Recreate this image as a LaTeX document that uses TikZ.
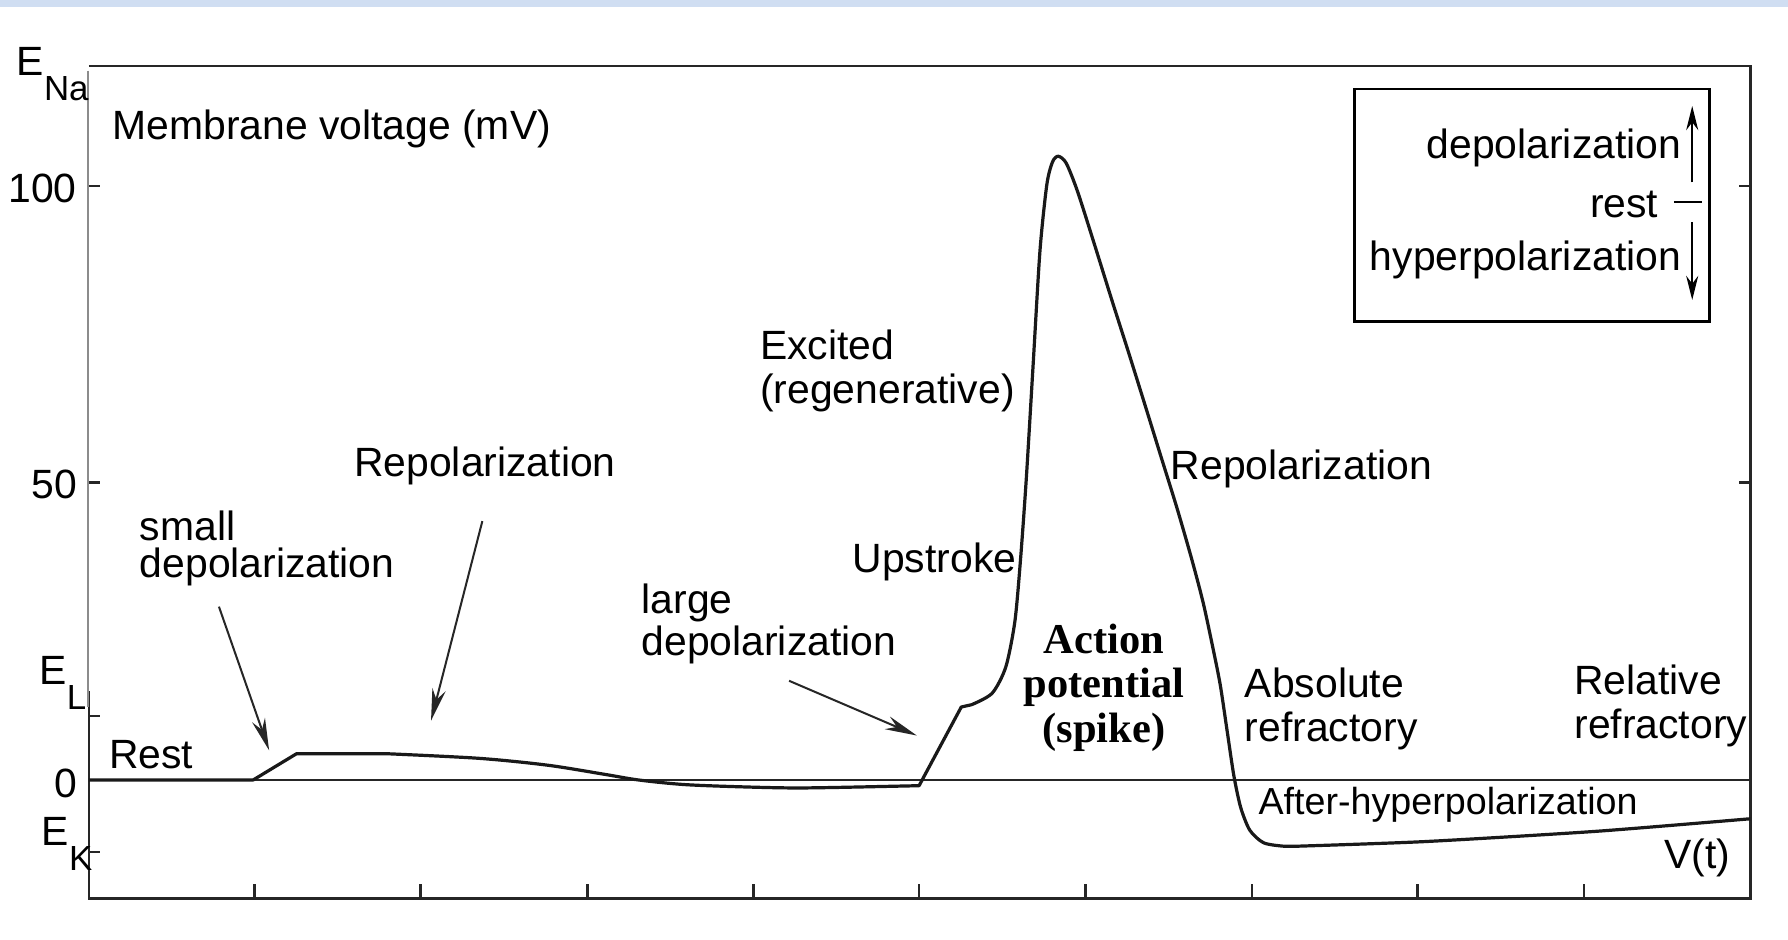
\documentclass[tikz,border=0pt]{standalone}
\usepackage{fontspec}
\setmainfont{Liberation Sans}
\newfontfamily\serifbold{Liberation Serif}
\usetikzlibrary{arrows.meta}
\definecolor{bandblue}{RGB}{208,222,242}
\newcommand\labfont{\fontsize{10.2}{9.4}\selectfont}
\newcommand\labfontwide{\fontsize{10.2}{11}\selectfont}
\begin{document}
\begin{tikzpicture}[x=0.1mm,y=-0.1mm,
  frame/.style={line width=0.65pt,black!85},
  trace/.style={line width=0.8pt,black!90,line join=round},
  lbl/.style={font=\labfont,align=left,inner sep=0pt,anchor=west},
  axlbl/.style={font=\labfont,inner sep=0pt,anchor=east},
  ann/.style={line width=0.5pt,black!85,-{Stealth[length=8pt,width=3.4pt]}},
  legarr/.style={line width=0.6pt,-{Stealth[length=6pt,width=3pt]}}]
\useasboundingbox (0,0) rectangle (1568,824);
\fill[white] (0,0) rectangle (1568,824);
\fill[bandblue] (0,0) rectangle (1568,6);
% frame
\draw[frame] (78,58) -- (1535,58) -- (1535,788) -- (78,788) -- (78,606);
\draw[line width=0.6pt,black!45] (77,62) -- (77,620);
% baseline 0
\draw[frame] (78,684) -- (1535,684);
% y ticks
\foreach \yy in {163,423,628,747} \draw[frame] (78,\yy) -- (88,\yy);
\foreach \yy in {163,423} \draw[frame] (1535,\yy) -- (1525,\yy);
% x ticks
\foreach \xx in {223,369,515,661,806,952,1098,1243,1389} \draw[frame] (\xx,788) -- (\xx,775);
% y labels
\node[font=\labfont,inner sep=0pt,anchor=west] (ena) at (14,65) {E\raisebox{-1.15ex}{\fontsize{8.7}{8.7}\selectfont Na}};
\node[axlbl] (l100) at (68,165) {100};
\node[axlbl] (l50) at (68,425) {50};
\node[font=\labfont,inner sep=0pt,anchor=west] (el) at (34,599) {E\raisebox{-1.15ex}{\fontsize{8.7}{8.7}\selectfont L}};
\node[axlbl] (l0) at (68,687) {0};
\node[font=\labfont,inner sep=0pt,anchor=west] (ek) at (36,740) {E\raisebox{-1.15ex}{\fontsize{8.7}{8.7}\selectfont K}};
% trace
\draw[trace] (78,684) -- (222,684) -- (260,661) -- (340,661)
  plot[smooth,tension=0.5] coordinates {(340,661) (420,665) (480,671) (530,679) (560,684) (600,688) (650,690) (700,691) (760,690)}
  -- (806,689) -- (843,620) -- (852,618)
  plot[smooth,tension=0.45] coordinates {(852,618) (870,608) (882,585) (890,545) (895,490) (900,420) (906,320) (912,220) (918,162) (923,142) (928,137) (935,143) (945,168) (960,215) (975,263) (990,310) (1005,358) (1018,400) (1032,445) (1045,490) (1055,528) (1063,565) (1070,600) (1076,640) (1082,680) (1088,708) (1096,728) (1108,739) (1125,742) (1140,742)}
  plot[smooth,tension=0.4] coordinates {(1140,742) (1250,738) (1400,729) (1535,718)};
% labels
\node[lbl] (mv) at (98,113) {Membrane voltage (mV)};
\node[lbl] (rest) at (95,662) {Rest};
\node[lbl] (smalld) at (122,481) {small\\depolarization};
\node[lbl] (repol1) at (310,409) {Repolarization};
\node[lbl] (larged) at (562,547) {large\\depolarization};
\node[lbl,font=\labfontwide] (excited) at (666,325) {Excited\\(regenerative)};
\node[lbl] (upstroke) at (747,493) {Upstroke};
\node[font={\serifbold\bfseries\fontsize{10.6}{11.1}\selectfont},align=center,inner sep=0pt] (ap) at (968,603) {Action\\potential\\(spike)};
\node[lbl] (repol2) at (1026,411) {Repolarization};
\node[lbl,font=\labfontwide] (absr) at (1091,622) {Absolute\\refractory};
\node[lbl,font=\labfontwide] (relr) at (1380,619) {Relative\\refractory};
\node[lbl,font=\fontsize{9.4}{9.4}\selectfont] (ahp) at (1103,706) {After-hyperpolarization};
\node[font=\labfont,inner sep=0pt,anchor=east] (vt) at (1518,752) {V(t)};
% annotation arrows
\coordinate (a1s) at (192,532); \coordinate (a1e) at (236,658);
\coordinate (a2s) at (423,457); \coordinate (a2e) at (378,632);
\coordinate (a3s) at (692,597); \coordinate (a3e) at (804,645);
\draw[ann] (a1s) -- (a1e);
\draw[ann] (a2s) -- (a2e);
\draw[ann] (a3s) -- (a3e);
% legend
\draw[line width=0.6pt] (1188,78) rectangle (1499,282);
\node[font=\labfont,inner sep=0pt,anchor=east] (ldep) at (1475,130) {depolarization};
\node[font=\labfont,inner sep=0pt,anchor=east] (lrest) at (1455,179) {rest};
\node[font=\labfont,inner sep=0pt,anchor=east] (lhyp) at (1475,228) {hyperpolarization};
\coordinate (u1) at (1484,160); \coordinate (u2) at (1484,93);
\coordinate (r1) at (1468,177); \coordinate (r2) at (1493,177);
\coordinate (d1) at (1484,195); \coordinate (d2) at (1484,263);
\draw[legarr] (u1) -- (u2);
\draw[line width=0.6pt] (r1) -- (r2);
\draw[legarr] (d1) -- (d2);
\end{tikzpicture}
\end{document}
